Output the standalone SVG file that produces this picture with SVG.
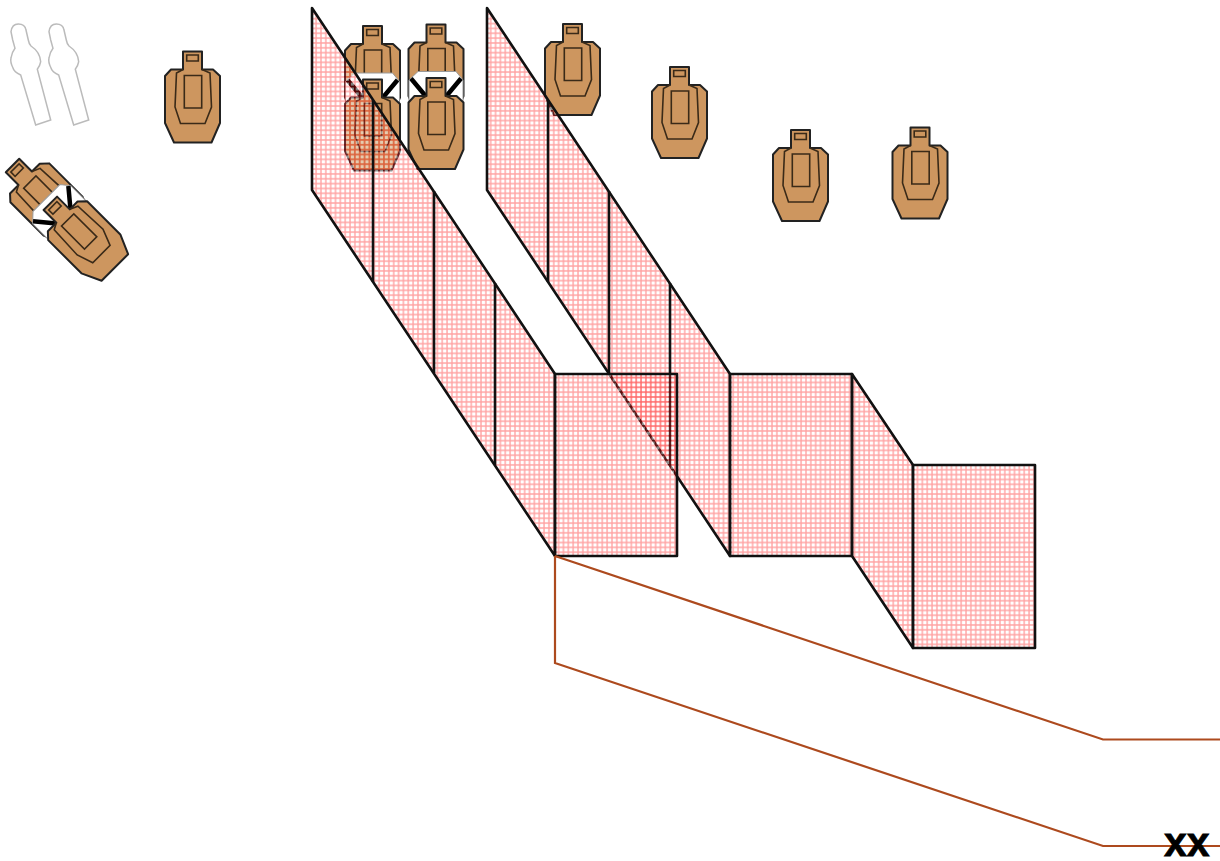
<svg xmlns="http://www.w3.org/2000/svg" width="1220" height="861" viewBox="0 0 1220 861">
<style>
.o{fill:#cd965f;stroke:#222;stroke-width:2;stroke-linejoin:round}
.i{fill:none;stroke:#3a2a18;stroke-width:1.6}
.s{fill:#fff;stroke:#bbb;stroke-width:1.5}
.w{fill:url(#mesh);stroke:none}
.e{fill:none;stroke:#111;stroke-width:2.6;stroke-linejoin:round}
.r{fill:none;stroke:#ad4a1e;stroke-width:2.2}
.x{font:bold 41px "Liberation Sans",Arial,sans-serif;fill:#000;stroke:#000;stroke-width:.8}
.bk{stroke:#000;stroke-width:4.5}
.wh{fill:#fff;stroke:#999;stroke-width:1}
</style>
<defs>
<pattern id="mesh" width="4.85" height="4.85" patternUnits="userSpaceOnUse" patternTransform="translate(-.13 3.2)">
<rect x="1.7" y="1.7" width="3.15" height="3.15" fill="#fff" fill-opacity=".5"/>
<path d="M0 1H4.85M1 0V4.85" stroke="#f00" stroke-opacity=".36" stroke-width="1.4" fill="none"/>
</pattern>
<g id="t">
<path class="o" d="M-9.5-45.5H9.5V-27.5H20.5L27.5-21V26L19 45.5H-18.5L-27.5 26V-21L-21.5-27.5H-9.5Z"/>
<path class="i" d="M-5.8-42H5.8V-36H-5.8Z"/>
<path class="i" d="M-9.5-27.5L-16-24L-17.5 10L-12 26.5H12.5L19 10L17.5-24L9.5-27.5"/>
<path class="i" d="M-8.2-21.5H9.2V11H-8.2Z"/>
</g>
<g id="p">
<use href="#t" y="-53.5"/>
<path class="wh" d="M-18-52H20L27-43.5V-22H-27V-43.5Z"/>
<path class="bk" d="M-25-45L-10-27M25-45L10-27"/>
<use href="#t"/>
</g>
</defs>
<g id="silhouette-1"><path class="s" d="M11 31.7Q12 24 18.3 24Q25 24 26 30L28.3 40Q29 44 31 46Q40 52 40.7 61.7Q40 66 37.3 69.3L50.7 120L35.7 125L20.7 75Q14 72 13 68Q10 62 11 58Q12 52 15 48.3L12.7 40Z"/></g>
<g id="silhouette-2"><path class="s" transform="translate(38 0)" d="M11 31.7Q12 24 18.3 24Q25 24 26 30L28.3 40Q29 44 31 46Q40 52 40.7 61.7Q40 66 37.3 69.3L50.7 120L35.7 125L20.7 75Q14 72 13 68Q10 62 11 58Q12 52 15 48.3L12.7 40Z"/></g>
<g id="target-1"><use href="#t" x="192.5" y="97"/></g>
<g id="target-pair-diagonal"><use href="#p" transform="translate(82.5 235.5) rotate(-45)"/></g>
<g id="target-pair-1"><use href="#p" x="372.5" y="125"/></g>
<g id="target-pair-2"><use href="#p" x="436" y="123.5"/></g>
<g id="target-2"><use href="#t" x="572.5" y="69.5"/></g>
<g id="target-3"><use href="#t" x="679.5" y="112.5"/></g>
<g id="target-4"><use href="#t" x="800.5" y="175.5"/></g>
<g id="target-5"><use href="#t" x="920" y="173"/></g>
<g id="wall-2">
<path class="w" d="M487 8L730 374V556L487 190Z"/>
<path class="e" d="M487 8L730 374V556L487 190Z"/>
<path class="e" d="M548 100V282M609 191V373M670 283V465"/>
<path class="w" d="M730 374H852V556H730Z"/>
<path class="e" d="M730 374H852V556H730Z"/>
<path class="w" d="M852 374L913 465V648L852 556Z"/>
<path class="e" d="M852 374L913 465V648L852 556Z"/>
<path class="w" d="M913 465H1035V648H913Z"/>
<path class="e" d="M913 465H1035V648H913Z"/>
</g>
<g id="wall-1">
<path class="w" d="M312 8L555 374V556L312 190Z"/>
<path class="e" d="M312 8L555 374V556L312 190Z"/>
<path class="e" d="M373 100V282M434 191V373M495 283V465"/>
<path class="w" d="M555 374H677V556H555Z"/>
<path class="e" d="M555 374H677V556H555Z"/>
</g>
<g id="connectors">
<path class="r" d="M555 556L1103 739.5H1220"/>
<path class="r" d="M555 556V663L1103 846H1220"/>
</g>
<g id="label"><text class="x" x="1164" y="856">xx</text></g>
</svg>
